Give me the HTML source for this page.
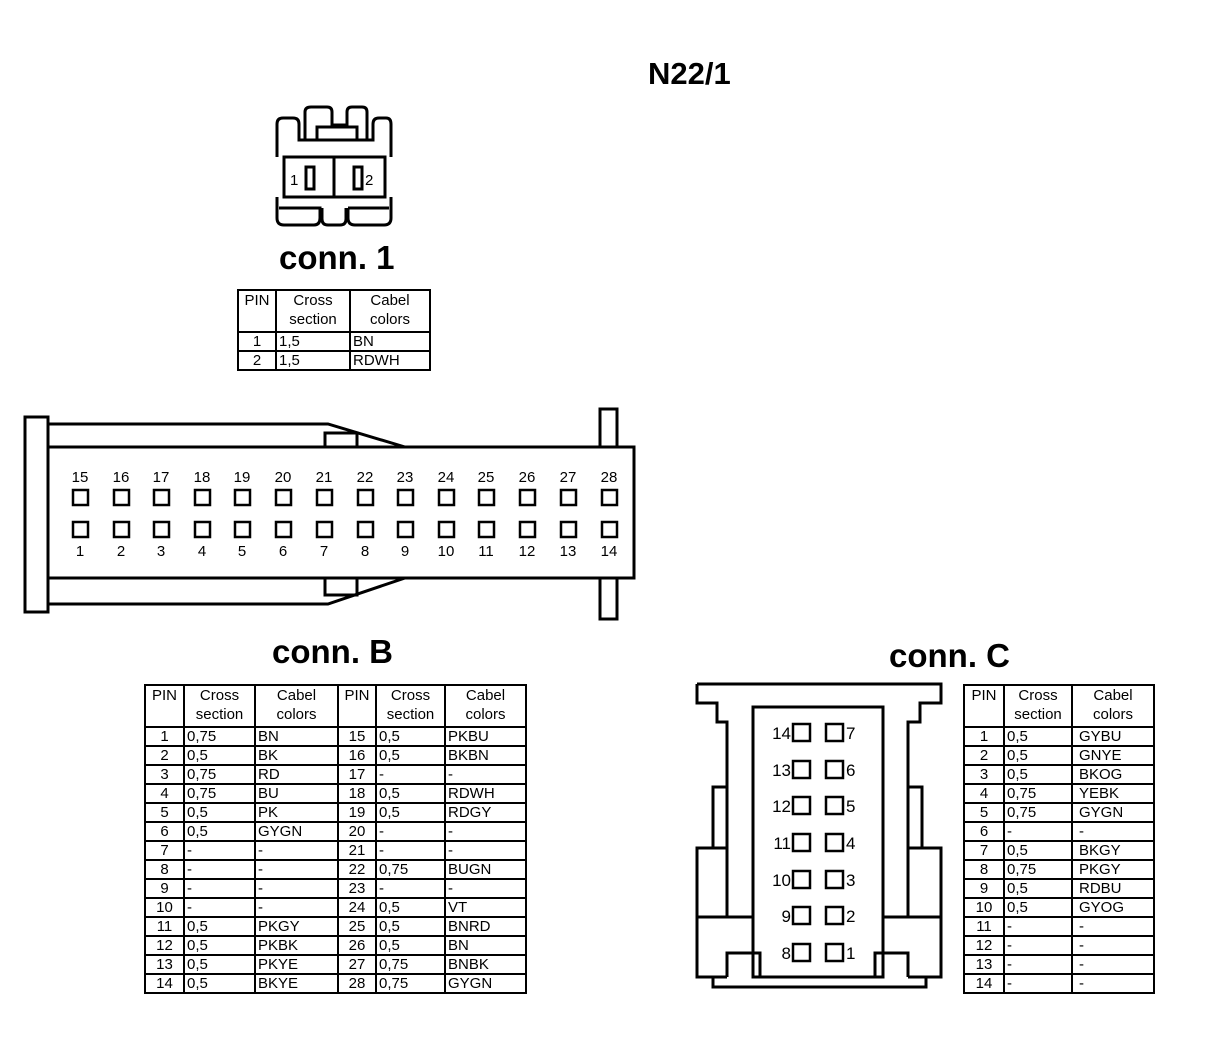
<!DOCTYPE html>
<html><head><meta charset="utf-8"><style>
body{margin:0;background:#fff;width:1216px;height:1048px;position:relative;overflow:hidden;font-family:"Liberation Sans",sans-serif;}
.t{position:absolute;font-weight:bold;color:#000;}
table{position:absolute;border-collapse:collapse;table-layout:fixed;font-size:15px;line-height:17px;}
td{border:2px solid #000;padding:0;height:17px;white-space:nowrap;overflow:hidden;vertical-align:top}
tr.h td{height:40px;text-align:center;line-height:19px}
td.c{text-align:center}
td.l{padding-left:2px}
td.m{padding-left:6px}
svg{position:absolute;left:0;top:0}
</style></head><body>
<svg width="1216" height="1048" font-family="Liberation Sans, sans-serif" font-size="15">
<g fill="none" stroke="#000" stroke-width="3">
<!-- conn 1 -->
<path d="M277,157 V124 Q277,118 283,118 H293 Q299,118 299,124 V140 H305 V112 Q305,107 311,107 H327 Q332,107 332,112 V125 H347 V112 Q347,107 352,107 H362 Q367,107 367,112 V140 H373 V124 Q373,118 379,118 H386 Q391,118 391,124 V157"/>
<path d="M317,140 V127 H357 V140"/>
<path d="M305,140 H367"/>
<rect x="284" y="157" width="101" height="40"/>
<line x1="334" y1="157" x2="334" y2="197"/>
<rect x="306" y="167" width="8" height="22"/>
<rect x="354" y="167" width="8" height="22"/>
<path d="M277,197 V218 Q277,225 284,225 H314 Q320,225 320,218 V208 H279"/>
<path d="M348,208 V218 Q348,225 355,225 H384 Q391,225 391,218 V197"/>
<path d="M348,208 H389"/>
<path d="M322,208 V219 Q322,225 328,225 H340 Q346,225 346,219 V208"/>
<!-- conn B -->
<rect x="25" y="417" width="23" height="195"/>
<rect x="48" y="447" width="586" height="131"/>
<path d="M48,424 H328 L405,447"/>
<rect x="325" y="433" width="32" height="14"/>
<path d="M48,604 H328 L405,578"/>
<rect x="325" y="578" width="32" height="17"/>
<rect x="600" y="409" width="17" height="38"/>
<rect x="600" y="578" width="17" height="41"/>
<!-- conn C -->
<path d="M697,684 H941 V703 H920 V722 H908 V787 H922 V848 H941 V917 H882"/>
<path d="M697,684 V703 H717 V722 H727 V787 H713 V848 H697 V917 H753"/>
<path d="M697,917 V977 H713 V987 H926 V977 H941 V917"/>
<rect x="753" y="707" width="130" height="270"/>
<path d="M727,722 V917 M908,722 V917 M727,848 V917 M908,848 V917"/>
<path d="M727,787 H713 M697,848 H727 M908,848 H941"/>
<path d="M727,977 V953 H760 V977 M908,977 V953 H875 V977"/>
<path d="M713,977 H727 M908,977 H926"/>
</g>
<g fill="none" stroke="#000" stroke-width="2.5">
<rect x="793" y="724" width="17" height="17"/><rect x="826" y="724" width="17" height="17"/>
<rect x="793" y="761" width="17" height="17"/><rect x="826" y="761" width="17" height="17"/>
<rect x="793" y="797" width="17" height="17"/><rect x="826" y="797" width="17" height="17"/>
<rect x="793" y="834" width="17" height="17"/><rect x="826" y="834" width="17" height="17"/>
<rect x="793" y="871" width="17" height="17"/><rect x="826" y="871" width="17" height="17"/>
<rect x="793" y="907" width="17" height="17"/><rect x="826" y="907" width="17" height="17"/>
<rect x="793" y="944" width="17" height="17"/><rect x="826" y="944" width="17" height="17"/>
</g>
<g font-size="17" text-anchor="end">
<text x="791" y="739">14</text><text x="791" y="776">13</text><text x="791" y="812">12</text><text x="791" y="849">11</text><text x="791" y="886">10</text><text x="791" y="922">9</text><text x="791" y="959">8</text>
</g>
<g font-size="17">
<text x="846" y="739">7</text><text x="846" y="776">6</text><text x="846" y="812">5</text><text x="846" y="849">4</text><text x="846" y="886">3</text><text x="846" y="922">2</text><text x="846" y="959">1</text>
</g>
<text x="290" y="185" font-size="15">1</text><text x="365" y="185" font-size="15">2</text>
<g fill="none" stroke="#000" stroke-width="2.5">
<rect x="73" y="490" width="15" height="15"/><rect x="114" y="490" width="15" height="15"/><rect x="154" y="490" width="15" height="15"/><rect x="195" y="490" width="15" height="15"/><rect x="235" y="490" width="15" height="15"/><rect x="276" y="490" width="15" height="15"/><rect x="317" y="490" width="15" height="15"/><rect x="358" y="490" width="15" height="15"/><rect x="398" y="490" width="15" height="15"/><rect x="439" y="490" width="15" height="15"/><rect x="479" y="490" width="15" height="15"/><rect x="520" y="490" width="15" height="15"/><rect x="561" y="490" width="15" height="15"/><rect x="602" y="490" width="15" height="15"/>
<rect x="73" y="522" width="15" height="15"/><rect x="114" y="522" width="15" height="15"/><rect x="154" y="522" width="15" height="15"/><rect x="195" y="522" width="15" height="15"/><rect x="235" y="522" width="15" height="15"/><rect x="276" y="522" width="15" height="15"/><rect x="317" y="522" width="15" height="15"/><rect x="358" y="522" width="15" height="15"/><rect x="398" y="522" width="15" height="15"/><rect x="439" y="522" width="15" height="15"/><rect x="479" y="522" width="15" height="15"/><rect x="520" y="522" width="15" height="15"/><rect x="561" y="522" width="15" height="15"/><rect x="602" y="522" width="15" height="15"/>
</g>
<g text-anchor="middle" font-size="15">
<text x="80" y="482">15</text><text x="121" y="482">16</text><text x="161" y="482">17</text><text x="202" y="482">18</text><text x="242" y="482">19</text><text x="283" y="482">20</text><text x="324" y="482">21</text><text x="365" y="482">22</text><text x="405" y="482">23</text><text x="446" y="482">24</text><text x="486" y="482">25</text><text x="527" y="482">26</text><text x="568" y="482">27</text><text x="609" y="482">28</text>
<text x="80" y="556">1</text><text x="121" y="556">2</text><text x="161" y="556">3</text><text x="202" y="556">4</text><text x="242" y="556">5</text><text x="283" y="556">6</text><text x="324" y="556">7</text><text x="365" y="556">8</text><text x="405" y="556">9</text><text x="446" y="556">10</text><text x="486" y="556">11</text><text x="527" y="556">12</text><text x="568" y="556">13</text><text x="609" y="556">14</text>
</g>
</svg>
<div class="t" style="left:648px;top:56px;font-size:31px">N22/1</div>
<div class="t" style="left:279px;top:239px;font-size:33px">conn. 1</div>
<div class="t" style="left:272px;top:633px;font-size:33px">conn. B</div>
<div class="t" style="left:889px;top:637px;font-size:33px">conn. C</div>

<table style="left:237px;top:289px;width:192px">
<col style="width:38px"><col style="width:74px"><col style="width:80px">
<tr class="h"><td>PIN</td><td>Cross<br>section</td><td>Cabel<br>colors</td></tr>
<tr><td class="c">1</td><td class="l">1,5</td><td class="l">BN</td></tr>
<tr><td class="c">2</td><td class="l">1,5</td><td class="l">RDWH</td></tr>
</table>

<table style="left:144px;top:684px;width:381px">
<col style="width:39px"><col style="width:71px"><col style="width:83px"><col style="width:38px"><col style="width:69px"><col style="width:81px">
<tr class="h"><td>PIN</td><td>Cross<br>section</td><td>Cabel<br>colors</td><td>PIN</td><td>Cross<br>section</td><td>Cabel<br>colors</td></tr>
<tr><td class="c">1</td><td class="l">0,75</td><td class="l">BN</td><td class="c">15</td><td class="l">0,5</td><td class="l">PKBU</td></tr>
<tr><td class="c">2</td><td class="l">0,5</td><td class="l">BK</td><td class="c">16</td><td class="l">0,5</td><td class="l">BKBN</td></tr>
<tr><td class="c">3</td><td class="l">0,75</td><td class="l">RD</td><td class="c">17</td><td class="l">-</td><td class="l">-</td></tr>
<tr><td class="c">4</td><td class="l">0,75</td><td class="l">BU</td><td class="c">18</td><td class="l">0,5</td><td class="l">RDWH</td></tr>
<tr><td class="c">5</td><td class="l">0,5</td><td class="l">PK</td><td class="c">19</td><td class="l">0,5</td><td class="l">RDGY</td></tr>
<tr><td class="c">6</td><td class="l">0,5</td><td class="l">GYGN</td><td class="c">20</td><td class="l">-</td><td class="l">-</td></tr>
<tr><td class="c">7</td><td class="l">-</td><td class="l">-</td><td class="c">21</td><td class="l">-</td><td class="l">-</td></tr>
<tr><td class="c">8</td><td class="l">-</td><td class="l">-</td><td class="c">22</td><td class="l">0,75</td><td class="l">BUGN</td></tr>
<tr><td class="c">9</td><td class="l">-</td><td class="l">-</td><td class="c">23</td><td class="l">-</td><td class="l">-</td></tr>
<tr><td class="c">10</td><td class="l">-</td><td class="l">-</td><td class="c">24</td><td class="l">0,5</td><td class="l">VT</td></tr>
<tr><td class="c">11</td><td class="l">0,5</td><td class="l">PKGY</td><td class="c">25</td><td class="l">0,5</td><td class="l">BNRD</td></tr>
<tr><td class="c">12</td><td class="l">0,5</td><td class="l">PKBK</td><td class="c">26</td><td class="l">0,5</td><td class="l">BN</td></tr>
<tr><td class="c">13</td><td class="l">0,5</td><td class="l">PKYE</td><td class="c">27</td><td class="l">0,75</td><td class="l">BNBK</td></tr>
<tr><td class="c">14</td><td class="l">0,5</td><td class="l">BKYE</td><td class="c">28</td><td class="l">0,75</td><td class="l">GYGN</td></tr>
</table>

<table style="left:963px;top:684px;width:190px">
<col style="width:40px"><col style="width:68px"><col style="width:82px">
<tr class="h"><td>PIN</td><td>Cross<br>section</td><td>Cabel<br>colors</td></tr>
<tr><td class="c">1</td><td class="l">0,5</td><td class="m">GYBU</td></tr>
<tr><td class="c">2</td><td class="l">0,5</td><td class="m">GNYE</td></tr>
<tr><td class="c">3</td><td class="l">0,5</td><td class="m">BKOG</td></tr>
<tr><td class="c">4</td><td class="l">0,75</td><td class="m">YEBK</td></tr>
<tr><td class="c">5</td><td class="l">0,75</td><td class="m">GYGN</td></tr>
<tr><td class="c">6</td><td class="l">-</td><td class="m">-</td></tr>
<tr><td class="c">7</td><td class="l">0,5</td><td class="m">BKGY</td></tr>
<tr><td class="c">8</td><td class="l">0,75</td><td class="m">PKGY</td></tr>
<tr><td class="c">9</td><td class="l">0,5</td><td class="m">RDBU</td></tr>
<tr><td class="c">10</td><td class="l">0,5</td><td class="m">GYOG</td></tr>
<tr><td class="c">11</td><td class="l">-</td><td class="m">-</td></tr>
<tr><td class="c">12</td><td class="l">-</td><td class="m">-</td></tr>
<tr><td class="c">13</td><td class="l">-</td><td class="m">-</td></tr>
<tr><td class="c">14</td><td class="l">-</td><td class="m">-</td></tr>
</table>
</body></html>
